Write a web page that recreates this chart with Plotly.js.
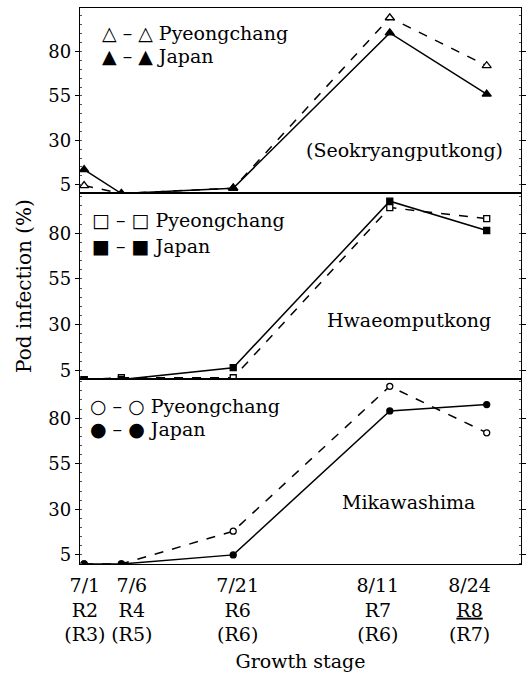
<!DOCTYPE html>
<html>
<head>
<meta charset="utf-8">
<script src="https://cdn.plot.ly/plotly-3.0.1.min.js"></script>
<style>html,body{margin:0;padding:0;background:#fff;}</style>
</head>
<body>
<div id="chart" style="width:526px;height:676px;"></div>
<script>
// Days after 1 July for each sampling date
const days = [0, 5, 20, 41, 54];
const tickPos = [0.1, 6.4, 20.6, 39.4, 51.7];
const tickLabels = [
  "7/1<br>R2<br>(R3)",
  "7/6<br>R4<br>(R5)",
  "7/21<br>R6<br>(R6)",
  "8/11<br>R7<br>(R6)",
  "8/24<br><span style='text-decoration:underline'>R8</span><br>(R7)"
];
const seokPyeong = [4.5, 0, 3, 99, 72];
const seokJapan  = [13.5, 0, 3, 90.5, 56];
const hwaePyeong = [0, 1, 1, 94, 88];
const hwaeJapan  = [0, 0, 6.5, 97.5, 81.5];
const mikaPyeong = [0, 0, 18, 97.5, 72];
const mikaJapan  = [0, 0, 5, 84, 87.5];
const yTicks = [5, 30, 55, 80];

const F = "DejaVu Serif";
function tr(y, xa, ya, dashed, sym, open) {
  return {
    x: days, y: y, xaxis: xa, yaxis: ya, type: "scatter", mode: "lines+markers",
    line: {color: "#000", width: 1.5, dash: dashed ? "dash" : "solid"},
    marker: {symbol: sym, size: sym === "triangle-up" ? 8 : 6,
             color: open ? "#fff" : "#000", line: {color: "#000", width: 1.3}},
    cliponaxis: true, showlegend: false, hoverinfo: "skip"
  };
}
const data = [
  tr(seokPyeong, "x", "y", true, "triangle-up", true),
  tr(seokJapan, "x", "y", false, "triangle-up", false),
  tr(hwaePyeong, "x2", "y2", true, "square", true),
  tr(hwaeJapan, "x2", "y2", false, "square", false),
  tr(mikaPyeong, "x3", "y3", true, "circle", true),
  tr(mikaJapan, "x3", "y3", false, "circle", false)
];

const xr = [-0.55, 58.6];
function xa(anchor, labels) {
  return {
    anchor: anchor, range: xr, showline: true, linecolor: "#000", linewidth: 1.2,
    mirror: true, zeroline: false, showgrid: false, ticks: "",
    tickmode: "array", tickvals: tickPos, ticktext: tickLabels,
    showticklabels: labels, tickfont: {family: F, size: 19, color: "#000"}
  };
}
function ya(anchor, dom, rng) {
  return {
    anchor: anchor, domain: dom, range: rng, showline: true, linecolor: "#000", linewidth: 1.2,
    mirror: "ticks", zeroline: false, showgrid: false, ticks: "outside", ticklen: 4,
    tickcolor: "#000", tickmode: "array", tickvals: yTicks,
    tickfont: {family: F, size: 18, color: "#000"},
    minor: {ticks: "inside", ticklen: 2, dtick: 5, tickcolor: "#555"}
  };
}
function ann(text, x, y, xanchor, size) {
  return {text: text, xref: "paper", yref: "paper", x: x, y: y, xanchor: xanchor,
          yanchor: "middle", showarrow: false, font: {family: F, size: size, color: "#000"}};
}
const layout = {
  width: 526, height: 676,
  margin: {l: 80, r: 5, t: 8, b: 112},
  paper_bgcolor: "#fff", plot_bgcolor: "#fff",
  showlegend: false,
  xaxis: xa("y", false),
  xaxis2: xa("y2", false),
  xaxis3: Object.assign(xa("y3", true), {
    ticklabelstandoff: 4,
    title: {text: "Growth stage", font: {family: F, size: 19, color: "#000"}, standoff: 10}
  }),
  yaxis: ya("x", [0.6673, 1], [0.3, 104.5]),
  yaxis2: ya("x2", [0.3327, 0.6673], [0.3, 102]),
  yaxis3: ya("x3", [0, 0.3327], [0, 101.5]),
  annotations: [
    Object.assign(ann("Pod infection (%)", -0.127, 0.5, "center", 20), {textangle: -90}),
    ann("△ – △ Pyeongchang", 0.045, 0.955, "left", 19),
    ann("▲ – ▲ Japan", 0.045, 0.913, "left", 19),
    ann("(Seokryangputkong)", 0.735, 0.745, "center", 19),
    ann("□ – □ Pyeongchang", 0.023, 0.619, "left", 19),
    ann("■ – ■ Japan", 0.023, 0.572, "left", 19),
    ann("Hwaeomputkong", 0.745, 0.439, "center", 19),
    ann("○ – ○ Pyeongchang", 0.018, 0.284, "left", 19),
    ann("● – ● Japan", 0.018, 0.243, "left", 19),
    ann("Mikawashima", 0.745, 0.1115, "center", 19)
  ]
};
Plotly.newPlot("chart", data, layout, {staticPlot: true, displayModeBar: false});
</script>
</body>
</html>
